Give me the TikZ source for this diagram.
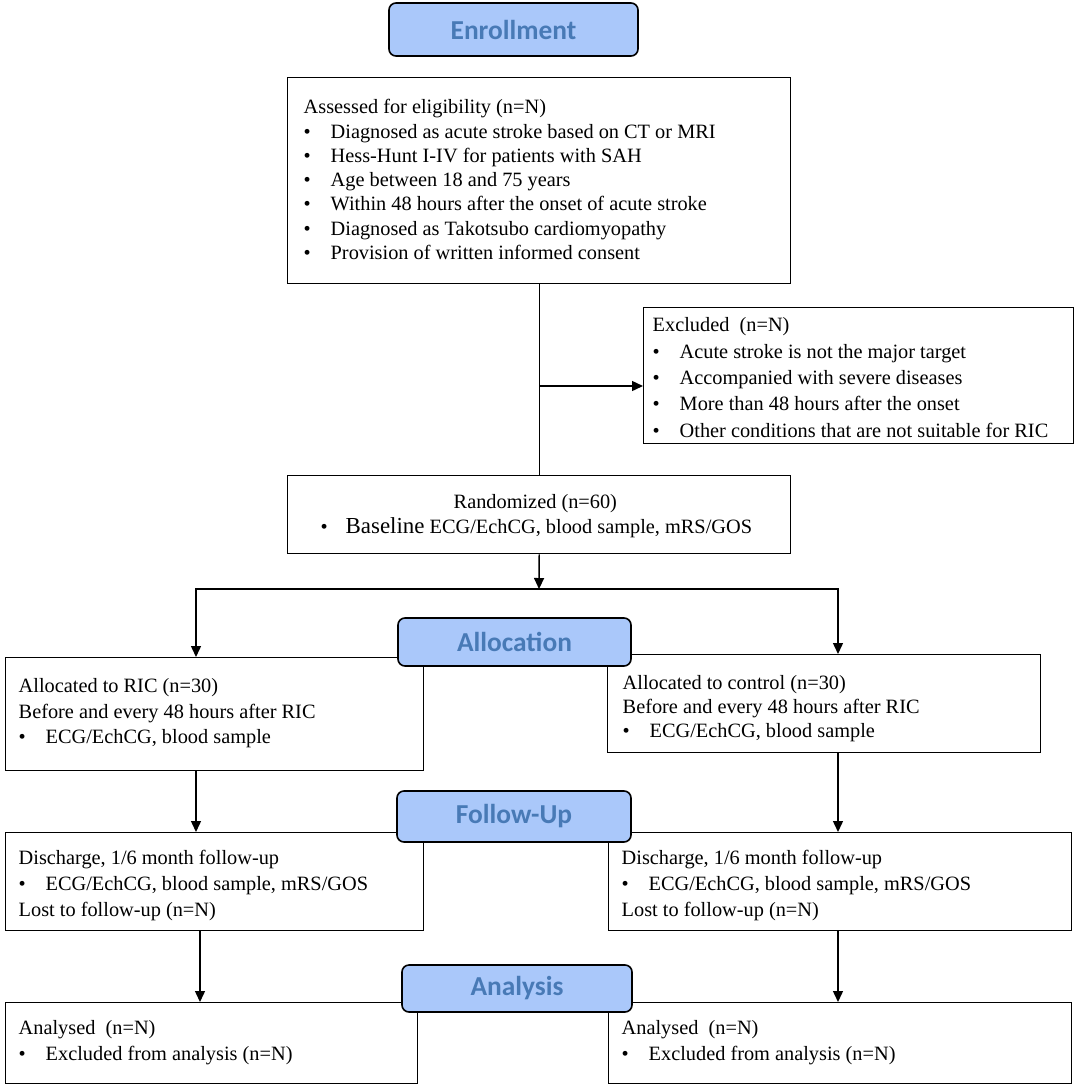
\documentclass[tikz,border=0pt]{standalone}
\usepackage{fontspec}
\setmainfont{Liberation Serif}
\newfontfamily\hdrfont{Carlito}
\usetikzlibrary{arrows.meta}
\definecolor{hdrfill}{RGB}{170,200,250}
\definecolor{hdrtext}{RGB}{72,122,182}
\newcommand\bul{\makebox[27bp][l]{•}}
\begin{document}
\begin{tikzpicture}[x=1bp,y=-1bp,line width=1.4bp,
  boxstyle/.style={draw,line width=1.4bp,inner sep=0,anchor=north west},
  hdr/.style={draw,fill=hdrfill,rounded corners=7bp,line width=1.6bp,text=hdrtext,
    font=\hdrfont\bfseries\fontsize{27.5}{30}\selectfont,inner sep=0},
  txt/.style={anchor=north west,inner sep=0,align=left},
  arr/.style={-{Triangle[length=11bp,width=10bp]},line width=1.4bp}]
\useasboundingbox (0,0) rectangle (1077,1088);

% boxes
\node[boxstyle,minimum width=503bp,minimum height=206bp] (assess) at (287,77) {};
\node[boxstyle,minimum width=430bp,minimum height=136bp] (excl) at (643,307) {};
\node[boxstyle,minimum width=503bp,minimum height=78bp] (rand) at (287,475) {};
\node[boxstyle,minimum width=418bp,minimum height=113bp] (ric) at (5,657) {};
\node[boxstyle,minimum width=433bp,minimum height=98bp] (ctrl) at (607,654) {};
\node[boxstyle,minimum width=418bp,minimum height=98bp] (ful) at (5,832) {};
\node[boxstyle,minimum width=463bp,minimum height=98bp] (fur) at (608,832) {};
\node[boxstyle,minimum width=412bp,minimum height=81bp] (anl) at (5,1002) {};
\node[boxstyle,minimum width=463bp,minimum height=81bp] (anr) at (608,1002) {};

% texts
\node[txt,font=\fontsize{20.4}{24.4}\selectfont] (tassess) at (303,96) {\strut Assessed for eligibility (n=N)\\
\bul Diagnosed as acute stroke based on CT or MRI\\
\bul Hess-Hunt I-IV for patients with SAH\\
\bul Age between 18 and 75 years\\
\bul Within 48 hours after the onset of acute stroke\\
\bul Diagnosed as Takotsubo cardiomyopathy\\
\bul Provision of written informed consent};

\node[txt,font=\fontsize{20.4}{26.5}\selectfont] (texcl) at (652,312.5) {\strut Excluded\ \ (n=N)\\
\bul Acute stroke is not the major target\\
\bul Accompanied with severe diseases\\
\bul More than 48 hours after the onset\\
\bul Other conditions that are not suitable for RIC};

\node[anchor=base west,inner sep=0,font=\fontsize{20.4}{24}\selectfont] (trand1) at (453,508) {Randomized (n=60)};
\node[anchor=base west,inner sep=0,font=\fontsize{20.4}{24}\selectfont] (trand2) at (320,533) {\makebox[25bp][l]{•}{\fontsize{23}{26}\selectfont Baseline} ECG/EchCG, blood sample, mRS/GOS};

\node[txt,font=\fontsize{20.4}{25.5}\selectfont] (tric) at (18,674.2) {\strut Allocated to RIC (n=30)\\
Before and every 48 hours after RIC\\
\bul ECG/EchCG, blood sample};
\node[txt,font=\fontsize{20.4}{24}\selectfont] (tctrl) at (622,672.2) {\strut Allocated to control (n=30)\\
Before and every 48 hours after RIC\\
\bul ECG/EchCG, blood sample};

\node[txt,font=\fontsize{20.4}{26}\selectfont] (tful) at (18,845.8) {\strut Discharge, 1/6 month follow-up\\
\bul ECG/EchCG, blood sample, mRS/GOS\\
Lost to follow-up (n=N)};
\node[txt,font=\fontsize{20.4}{26}\selectfont] (tfur) at (621,845.8) {\strut Discharge, 1/6 month follow-up\\
\bul ECG/EchCG, blood sample, mRS/GOS\\
Lost to follow-up (n=N)};

\node[txt,font=\fontsize{20.4}{26}\selectfont] (tanl) at (18,1015.8) {\strut Analysed\ \ (n=N)\\
\bul Excluded from analysis (n=N)};
\node[txt,font=\fontsize{20.4}{26}\selectfont] (tanr) at (621,1015.8) {\strut Analysed\ \ (n=N)\\
\bul Excluded from analysis (n=N)};

% connectors
\coordinate (brk) at (539,386);
\coordinate (split) at (539,589);
\coordinate (lx) at (196,589);
\coordinate (rx) at (838,589);
\draw (assess.south) -- (rand.north);
\draw[arr] (brk) -- (excl.west |- brk);
\draw[arr] (rand.south) -- (split);
\draw[arr] (split) -- (lx) -- (lx |- ric.north);
\draw[arr] (split) -- (rx) -- (rx |- ctrl.north);
\draw[arr] (ric.south -| lx) -- (ful.north -| lx);
\draw[arr] (ctrl.south -| rx) -- (fur.north -| rx);
\coordinate (lx2) at (200,930);
\draw[arr] (lx2) -- (anl.north -| lx2);
\draw[arr] (fur.south -| rx) -- (anr.north -| rx);

% headers
\node[hdr,minimum width=249bp,minimum height=53bp] (henr) at (513.5,29.5) {Enrollment};
\node[hdr,minimum width=233bp,minimum height=48bp] (halloc) at (514.5,642) {Allocation};
\node[hdr,minimum width=234bp,minimum height=51bp] (hfu) at (514,816.5) {Follow-Up};
\node[hdr,minimum width=230bp,minimum height=47bp] (han) at (517,988.5) {Analysis};
\end{tikzpicture}
\end{document}
